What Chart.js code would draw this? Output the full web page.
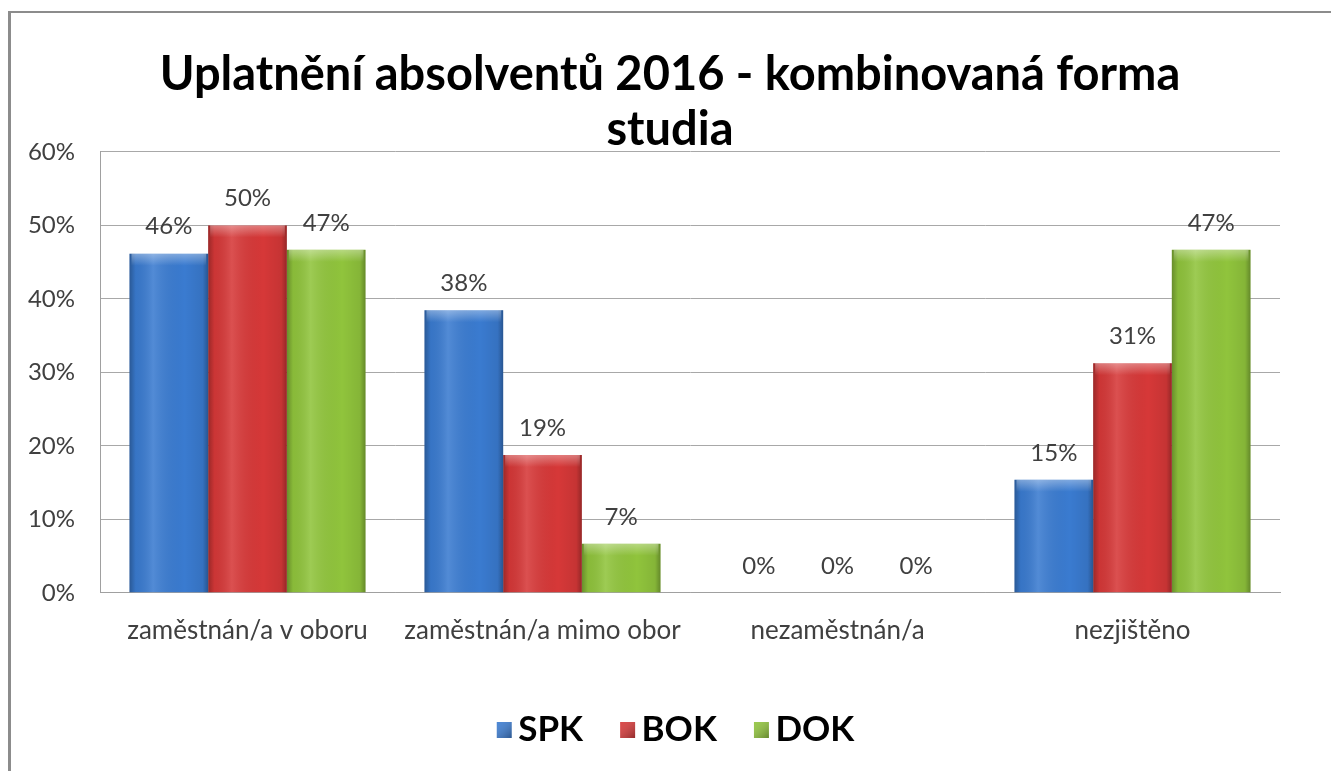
<!DOCTYPE html>
<html lang="cs">
<head>
<meta charset="utf-8">
<title>Uplatnění absolventů 2016</title>
<script src="https://cdn.jsdelivr.net/npm/chart.js@4"></script>
<style>
    html, body { margin: 0; padding: 0; background: #fff; }
    #wrap { position: relative; width: 1331px; height: 771px; overflow: hidden; }
    #frame {
        position: absolute; left: 8px; top: 11px; width: 1340px; height: 800px;
        border-left: 3px solid #8c8c8c; border-top: 2px solid #8c8c8c;
        pointer-events: none;
    }
    canvas { position: absolute; left: 0; top: 0; }
</style>
</head>
<body>
<div id="wrap">
    <canvas id="chart" width="1331" height="771"></canvas>
    <div id="frame"></div>
</div>
<script>
// Data
const categories = ['zaměstnán/a v oboru', 'zaměstnán/a mimo obor', 'nezaměstnán/a', 'nezjištěno'];
const seriesNames = ['SPK', 'BOK', 'DOK'];
const spkValues = [46.15, 38.46, 0, 15.38];
const bokValues = [50.0, 18.75, 0, 31.25];
const dokValues = [46.67, 6.67, 0, 46.67];
const yTicks = [0, 10, 20, 30, 40, 50, 60];

const colors = ['#3a7bd0', '#d63838', '#90c43c'];

// Legendová značka: čtvereček posunutý blíž k textu
function legendSwatch(color) {
    const c = document.createElement('canvas');
    c.width = 41;
    c.height = 16;
    const g = c.getContext('2d');
    const grad = g.createLinearGradient(26, 0, 41, 16);
    grad.addColorStop(0, 'rgba(255,255,255,0.1)');
    grad.addColorStop(1, 'rgba(0,0,0,0.35)');
    g.fillStyle = color;
    g.fillRect(24, 0, 15, 16);
    g.fillStyle = grad;
    g.fillRect(24, 0, 15, 16);
    return c;
}

// Popisky hodnot nad sloupci
const valueLabels = {
    id: 'valueLabels',
    afterDatasetsDraw(chart) {
        const ctx = chart.ctx;
        ctx.save();
        ctx.font = '24px Lato';
        ctx.fillStyle = '#404040';
        ctx.textAlign = 'center';
        ctx.textBaseline = 'middle';
        chart.data.datasets.forEach((ds, i) => {
            chart.getDatasetMeta(i).data.forEach((bar, j) => {
                ctx.fillText(Math.round(ds.data[j]) + '%', bar.x, bar.y - 27);
            });
        });
        ctx.restore();
    }
};

// Stínování sloupců (lesklý efekt)
const barShade = {
    id: 'barShade',
    afterDatasetsDraw(chart) {
        const ctx = chart.ctx;
        ctx.save();
        chart.data.datasets.forEach((ds, i) => {
            chart.getDatasetMeta(i).data.forEach(bar => {
                const left = bar.x - bar.width / 2;
                const h = bar.base - bar.y;
                if (h <= 0) return;
                const g = ctx.createLinearGradient(left, 0, left + bar.width, 0);
                g.addColorStop(0, 'rgba(0,0,0,0.28)');
                g.addColorStop(0.08, 'rgba(0,0,0,0.05)');
                g.addColorStop(0.3, 'rgba(255,255,255,0.12)');
                g.addColorStop(0.7, 'rgba(0,0,0,0.0)');
                g.addColorStop(0.93, 'rgba(0,0,0,0.08)');
                g.addColorStop(1, 'rgba(0,0,0,0.3)');
                ctx.fillStyle = g;
                ctx.fillRect(left, bar.y, bar.width, h);
                const t = ctx.createLinearGradient(0, bar.y, 0, bar.y + 12);
                t.addColorStop(0, 'rgba(255,255,255,0.35)');
                t.addColorStop(1, 'rgba(255,255,255,0)');
                ctx.fillStyle = t;
                ctx.fillRect(left + 2, bar.y, bar.width - 4, Math.min(12, h));
            });
        });
        ctx.restore();
    }
};

function createChart() {
    const ctx = document.getElementById('chart').getContext('2d');
    const values = [spkValues, bokValues, dokValues];
    new Chart(ctx, {
        type: 'bar',
        data: {
            labels: categories,
            datasets: seriesNames.map((name, i) => ({
                label: name,
                data: values[i],
                backgroundColor: colors[i],
                pointStyle: legendSwatch(colors[i]),
                borderWidth: 0,
                categoryPercentage: 0.8,
                barPercentage: 1.0
            }))
        },
        options: {
            responsive: false,
            animation: false,
            layout: { padding: { left: 20, right: 11, top: 0, bottom: 14 } },
            plugins: {
                title: {
                    display: true,
                    text: ['Uplatnění absolventů 2016 - kombinovaná forma', 'studia'],
                    color: '#000',
                    font: { family: 'Lato', size: 47, weight: 'bold', lineHeight: 1.18 },
                    padding: { top: 47, bottom: -6 }
                },
                legend: {
                    position: 'bottom',
                    labels: {
                        color: '#000',
                        font: { family: 'Lato', size: 35, weight: 'bold' },
                        usePointStyle: true,
                        boxWidth: 15,
                        boxHeight: 15,
                        padding: 26
                    }
                },
                tooltip: { enabled: false }
            },
            scales: {
                x: {
                    grid: { display: false },
                    border: { color: '#a0a0a0', width: 1 },
                    ticks: {
                        color: '#404040',
                        font: { family: 'Lato', size: 26 },
                        padding: 14
                    },
                    afterFit(scale) { scale.height += 26; }
                },
                y: {
                    min: 0,
                    max: 60,
                    afterBuildTicks(scale) {
                        scale.ticks = yTicks.map(v => ({ value: v }));
                    },
                    afterFit(scale) { scale.width = 80; },
                    grid: { color: '#a8a8a8', drawTicks: false },
                    border: { color: '#a0a0a0', width: 1 },
                    ticks: {
                        color: '#404040',
                        font: { family: 'Lato', size: 24 },
                        padding: 25,
                        callback: v => v + '%'
                    }
                },
                // prázdné místo vpravo od grafu
                yRight: {
                    position: 'right',
                    min: 0,
                    max: 60,
                    grid: { display: false },
                    border: { display: false },
                    ticks: { display: false },
                    afterFit(scale) { scale.width = 40; }
                }
            }
        },
        plugins: [barShade, valueLabels]
    });
}

document.addEventListener('DOMContentLoaded', createChart);
</script>
</body>
</html>
